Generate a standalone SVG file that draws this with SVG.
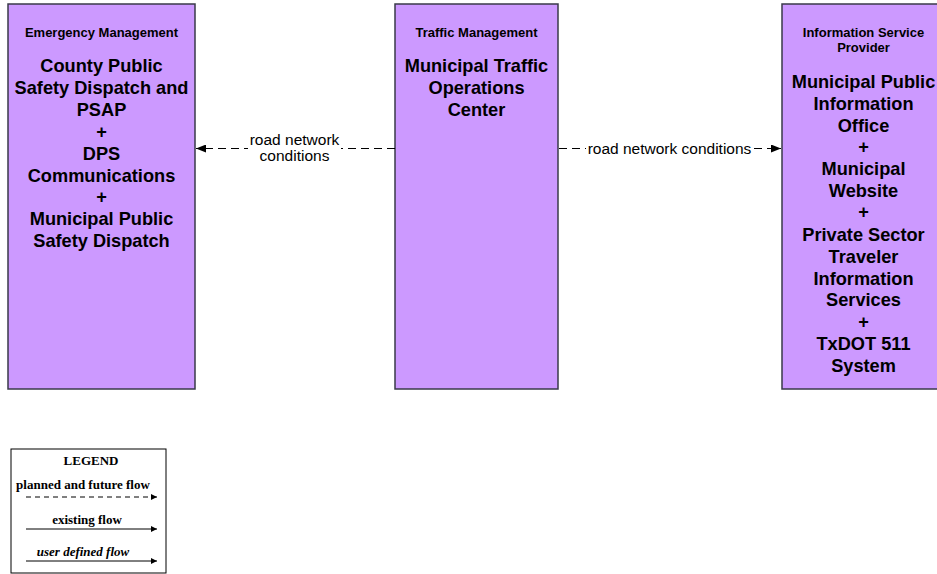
<svg xmlns="http://www.w3.org/2000/svg" width="937" height="574" viewBox="0 0 937 574">
<style>
.box{fill:#CC99FF;stroke:#3a3a4a;stroke-width:1.5}
.hd{font-family:"Liberation Sans",Arial,sans-serif;font-weight:bold;font-size:13px;text-anchor:middle;fill:#000}
.bd{font-family:"Liberation Sans",Arial,sans-serif;font-weight:bold;font-size:18.2px;text-anchor:middle;fill:#000}
.lbl{font-family:"Liberation Sans",Arial,sans-serif;font-size:15.5px;text-anchor:middle;fill:#000}
.flow{stroke:#000;stroke-width:1.2;fill:none;stroke-dasharray:8,5}
.lg{font-family:"Liberation Serif","Times New Roman",serif;font-weight:bold;font-size:13px;text-anchor:middle;fill:#000}
.lgl{stroke:#000;stroke-width:1;fill:none}
</style>
<defs>
<marker id="ah" markerWidth="10" markerHeight="8" refX="10" refY="4" orient="auto" markerUnits="userSpaceOnUse">
<path d="M0,0 L10,4 L0,8 Z" fill="#000"/>
</marker>
<marker id="ahs" markerWidth="6" markerHeight="6" refX="6" refY="3" orient="auto" markerUnits="userSpaceOnUse">
<path d="M0,0 L6,3 L0,6 Z" fill="#000"/>
</marker>
</defs>
<rect width="937" height="574" fill="#fff"/>
<g id="emergency-management">
<rect class="box" x="8" y="4" width="187" height="385"/>
<text class="hd" x="101.5" y="37">Emergency Management</text>
<text class="bd" x="101.5" y="72">County Public</text>
<text class="bd" x="101.5" y="94">Safety Dispatch and</text>
<text class="bd" x="101.5" y="116">PSAP</text>
<text class="bd" x="101.5" y="138">+</text>
<text class="bd" x="101.5" y="160">DPS</text>
<text class="bd" x="101.5" y="182">Communications</text>
<text class="bd" x="101.5" y="203">+</text>
<text class="bd" x="101.5" y="225">Municipal Public</text>
<text class="bd" x="101.5" y="247">Safety Dispatch</text>
</g>
<g id="traffic-management">
<rect class="box" x="395" y="4" width="163" height="385"/>
<text class="hd" x="476.5" y="37">Traffic Management</text>
<text class="bd" x="476.5" y="72">Municipal Traffic</text>
<text class="bd" x="476.5" y="94">Operations</text>
<text class="bd" x="476.5" y="116">Center</text>
</g>
<g id="information-service-provider">
<rect class="box" x="782" y="4" width="163" height="385"/>
<text class="hd" x="863.5" y="37">Information Service</text>
<text class="hd" x="863.5" y="52">Provider</text>
<text class="bd" x="863.5" y="88">Municipal Public</text>
<text class="bd" x="863.5" y="110">Information</text>
<text class="bd" x="863.5" y="132">Office</text>
<text class="bd" x="863.5" y="153">+</text>
<text class="bd" x="863.5" y="175">Municipal</text>
<text class="bd" x="863.5" y="197">Website</text>
<text class="bd" x="863.5" y="218">+</text>
<text class="bd" x="863.5" y="241">Private Sector</text>
<text class="bd" x="863.5" y="263">Traveler</text>
<text class="bd" x="863.5" y="285">Information</text>
<text class="bd" x="863.5" y="306">Services</text>
<text class="bd" x="863.5" y="328">+</text>
<text class="bd" x="863.5" y="350">TxDOT 511</text>
<text class="bd" x="863.5" y="372">System</text>
</g>
<g id="connectors">
<line class="flow" x1="395" y1="148.5" x2="196" y2="148.5" marker-end="url(#ah)"/>
<rect x="248" y="133" width="93" height="32" fill="#fff"/>
<text class="lbl" x="294.5" y="145">road network</text>
<text class="lbl" x="294.5" y="161">conditions</text>
<line class="flow" x1="559" y1="148.5" x2="781" y2="148.5" marker-end="url(#ah)"/>
<rect x="586" y="140" width="168" height="17" fill="#fff"/>
<text class="lbl" x="669.5" y="153.5">road network conditions</text>
</g>
<g id="legend">
<rect x="11" y="449" width="155" height="124" fill="#fff" stroke="#000" stroke-width="1"/>
<text class="lg" x="91" y="465">LEGEND</text>
<text class="lg" x="83" y="489">planned and future flow</text>
<line class="lgl" x1="26" y1="497" x2="157" y2="497" stroke-dasharray="5,4" marker-end="url(#ahs)"/>
<text class="lg" x="87" y="524">existing flow</text>
<line class="lgl" x1="26" y1="529" x2="157" y2="529" marker-end="url(#ahs)"/>
<text class="lg" x="83" y="556" font-style="italic">user defined flow</text>
<line class="lgl" x1="26" y1="561" x2="157" y2="561" marker-end="url(#ahs)"/>
</g>
</svg>
